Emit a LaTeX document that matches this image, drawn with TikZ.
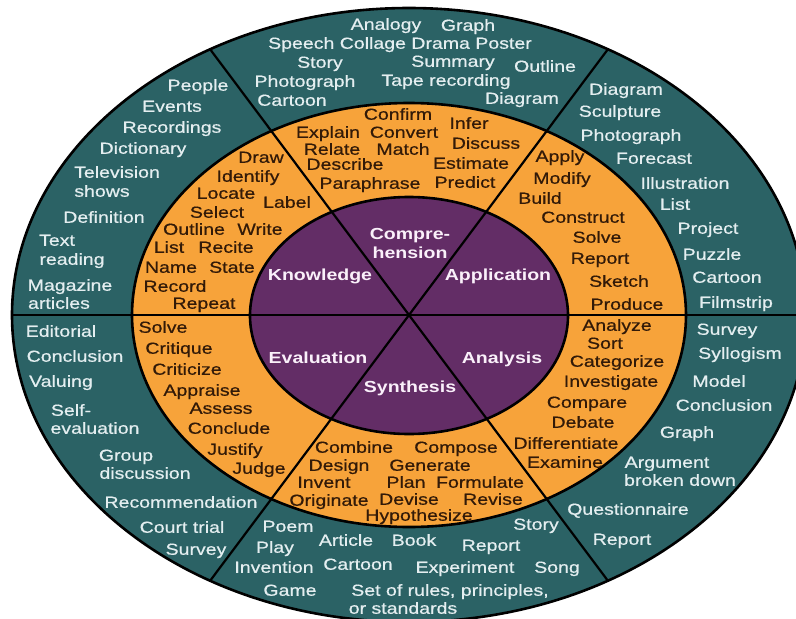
\documentclass[tikz,border=0pt]{standalone}
\usepackage{fontspec}
\setmainfont{Liberation Sans}[FakeStretch=1.22]
\newfontfamily\heavyfont{Liberation Sans}[FakeStretch=1.22,FakeBold=0.6]
\definecolor{tealbg}{RGB}{43,98,101}
\definecolor{orangebg}{RGB}{247,163,58}
\definecolor{purplebg}{RGB}{99,45,102}
\definecolor{tealtxt}{RGB}{228,238,240}
\definecolor{orangetxt}{RGB}{50,26,8}
\definecolor{purpletxt}{RGB}{250,240,250}
\newcommand\lblfont{\heavyfont\fontsize{16}{18}\selectfont}
\newcommand\boldlblfont{\fontsize{16}{18}\selectfont\bfseries}
\begin{document}
\begin{tikzpicture}[x=1pt,y=-1pt,
  lbl/.style={inner sep=0pt,text height=11.5pt,text depth=0pt,font=\lblfont},
  tw/.style={lbl,text=tealtxt},
  ow/.style={lbl,text=orangetxt},
  pw/.style={lbl,text=purpletxt,font=\boldlblfont},
  divider/.style={draw=black,line width=2.2pt},
  rim/.style={draw=black,line width=2.6pt}]
\fill[white] (0,0) rectangle (796,619);
\clip (0,0) rectangle (796,619);
% rings
\fill[tealbg] (409,315) ellipse [x radius=397, y radius=307];
\fill[orangebg] (409,315) ellipse [x radius=277, y radius=212];
\fill[purplebg] (409,315.5) ellipse [x radius=159, y radius=118.5];
% dividers
\coordinate (c) at (409,315);
\coordinate (ul) at (206.5,44.4);
\coordinate (ur) at (611.5,44.4);
\coordinate (ll) at (206.5,585.6);
\coordinate (lr) at (611.5,585.6);
\coordinate (hl) at (5,315);
\coordinate (hr) at (815,315);
\begin{scope}
\clip (409,315) ellipse [x radius=397, y radius=307];
\draw[divider] (ul) -- (c) -- (lr);
\draw[divider] (ur) -- (c) -- (ll);
\draw[divider] (hl) -- (hr);
\end{scope}
\draw[rim] (409,315) ellipse [x radius=397, y radius=307];
\draw[rim] (409,315) ellipse [x radius=277, y radius=212];
\draw[rim] (409,315.5) ellipse [x radius=159, y radius=118.5];
% purple labels
\node[pw] (p1) at (410,234) {Compre-};
\node[pw] (p2) at (410,253) {hension};
\node[pw] (p3) at (320,275) {Knowledge};
\node[pw] (p4) at (498,275) {Application};
\node[pw] (p5) at (318,358) {Evaluation};
\node[pw] (p6) at (502,358) {Analysis};
\node[pw] (p7) at (410,387) {Synthesis};
% orange: knowledge
\node[ow] (ok1) at (261,157) {Draw};
\node[ow] (ok2) at (248,176) {Identify};
\node[ow] (ok3) at (226,193) {Locate};
\node[ow] (ok4) at (287,202) {Label};
\node[ow] (ok5) at (217,212) {Select};
\node[ow] (ok6) at (194,229) {Outline};
\node[ow] (ok7) at (260,229) {Write};
\node[ow] (ok8) at (169,247) {List};
\node[ow] (ok9) at (226,247) {Recite};
\node[ow] (ok10) at (171,267) {Name};
\node[ow] (ok11) at (232,267) {State};
\node[ow] (ok12) at (175,286) {Record};
\node[ow] (ok13) at (204,303) {Repeat};
% orange: comprehension
\node[ow] (oc1) at (398,114) {Confirm};
\node[ow] (oc2) at (328,132) {Explain};
\node[ow] (oc3) at (404,132) {Convert};
\node[ow] (oc4) at (469,123) {Infer};
\node[ow] (oc5) at (332,149) {Relate};
\node[ow] (oc6) at (403,149) {Match};
\node[ow] (oc7) at (486,143) {Discuss};
\node[ow] (oc8) at (345,164) {Describe};
\node[ow] (oc9) at (471,163) {Estimate};
\node[ow] (oc10) at (370,183) {Paraphrase};
\node[ow] (oc11) at (465,182) {Predict};
% orange: application
\node[ow] (oa1) at (560,156) {Apply};
\node[ow] (oa2) at (562,178) {Modify};
\node[ow] (oa3) at (540,198) {Build};
\node[ow] (oa4) at (583,217) {Construct};
\node[ow] (oa5) at (597,237) {Solve};
\node[ow] (oa6) at (600,258) {Report};
\node[ow] (oa7) at (619,281) {Sketch};
\node[ow] (oa8) at (627,304) {Produce};
% orange: analysis
\node[ow] (on1) at (617,325) {Analyze};
\node[ow] (on2) at (605,343) {Sort};
\node[ow] (on3) at (617,361) {Categorize};
\node[ow] (on4) at (611,381) {Investigate};
\node[ow] (on5) at (587,402) {Compare};
\node[ow] (on6) at (583,422) {Debate};
\node[ow] (on7) at (566,443) {Differentiate};
\node[ow] (on8) at (565,462) {Examine};
% orange: synthesis
\node[ow] (os1) at (354,447) {Combine};
\node[ow] (os2) at (456,447) {Compose};
\node[ow] (os3) at (339,465) {Design};
\node[ow] (os4) at (430,465) {Generate};
\node[ow] (os5) at (324,482) {Invent};
\node[ow] (os6) at (406,482) {Plan};
\node[ow] (os7) at (480,482) {Formulate};
\node[ow] (os8) at (329,500) {Originate};
\node[ow] (os9) at (409,499) {Devise};
\node[ow] (os10) at (493,499) {Revise};
\node[ow] (os11) at (419,515) {Hypothesize};
% orange: evaluation
\node[ow] (oe1) at (163,327) {Solve};
\node[ow] (oe2) at (179,348) {Critique};
\node[ow] (oe3) at (187,369) {Criticize};
\node[ow] (oe4) at (202,390) {Appraise};
\node[ow] (oe5) at (221,408) {Assess};
\node[ow] (oe6) at (229,428) {Conclude};
\node[ow] (oe7) at (235,449) {Justify};
\node[ow] (oe8) at (259,468) {Judge};
% teal: top
\node[tw] (tc1) at (386,24) {Analogy};
\node[tw] (tc2) at (468,25) {Graph};
\node[tw] (tc3) at (400,43) {Speech Collage Drama Poster};
\node[tw] (tc4) at (320,62) {Story};
\node[tw] (tc5) at (453,61) {Summary};
\node[tw] (tc6) at (545,66) {Outline};
\node[tw] (tc7) at (305,81) {Photograph};
\node[tw] (tc8) at (446,80) {Tape recording};
\node[tw] (tc9) at (292,100) {Cartoon};
\node[tw] (tc10) at (522,98) {Diagram};
% teal: left
\node[tw] (tk1) at (198,85) {People};
\node[tw] (tk2) at (172,106) {Events};
\node[tw] (tk3) at (172,127) {Recordings};
\node[tw] (tk4) at (143,148) {Dictionary};
\node[tw] (tk5) at (117,172) {Television};
\node[tw] (tk6) at (102,191) {shows};
\node[tw] (tk7) at (104,217) {Definition};
\node[tw] (tk8) at (57,240) {Text};
\node[tw] (tk9) at (72,259) {reading};
\node[tw] (tk10) at (70,285) {Magazine};
\node[tw] (tk11) at (59,303) {articles};
% teal: right
\node[tw] (ta1) at (626,89) {Diagram};
\node[tw] (ta2) at (620,111) {Sculpture};
\node[tw] (ta3) at (631,135) {Photograph};
\node[tw] (ta4) at (654,158) {Forecast};
\node[tw] (ta5) at (685,183) {Illustration};
\node[tw] (ta6) at (675,204) {List};
\node[tw] (ta7) at (708,228) {Project};
\node[tw] (ta8) at (712,254) {Puzzle};
\node[tw] (ta9) at (727,277) {Cartoon};
\node[tw] (ta10) at (736,302) {Filmstrip};
% teal: lower right
\node[tw] (tn1) at (727,329) {Survey};
\node[tw] (tn2) at (740,353) {Syllogism};
\node[tw] (tn3) at (719,381) {Model};
\node[tw] (tn4) at (724,405) {Conclusion};
\node[tw] (tn5) at (687,432) {Graph};
\node[tw] (tn6) at (667,462) {Argument};
\node[tw] (tn7) at (680,480) {broken down};
\node[tw] (tn8) at (628,509) {Questionnaire};
\node[tw] (tn9) at (622,539) {Report};
% teal: bottom
\node[tw] (ts1) at (536,524) {Story};
\node[tw] (ts2) at (288,526) {Poem};
\node[tw] (ts3) at (346,540) {Article};
\node[tw] (ts4) at (414,540) {Book};
\node[tw] (ts5) at (491,545) {Report};
\node[tw] (ts6) at (275,547) {Play};
\node[tw] (ts7) at (274,567) {Invention};
\node[tw] (ts8) at (358,564) {Cartoon};
\node[tw] (ts9) at (465,567) {Experiment};
\node[tw] (ts10) at (557,567) {Song};
\node[tw] (ts11) at (290,590) {Game};
\node[tw] (ts12) at (450,590) {Set of rules, principles,};
\node[tw] (ts13) at (403,608) {or standards};
% teal: lower left
\node[tw] (te1) at (61,331) {Editorial};
\node[tw] (te2) at (75,356) {Conclusion};
\node[tw] (te3) at (61,381) {Valuing};
\node[tw] (te4) at (71,410) {Self-};
\node[tw] (te5) at (95,428) {evaluation};
\node[tw] (te6) at (126,455) {Group};
\node[tw] (te7) at (145,473) {discussion};
\node[tw] (te8) at (181,502) {Recommendation};
\node[tw] (te9) at (182,527) {Court trial};
\node[tw] (te10) at (196,549) {Survey};
\end{tikzpicture}
\end{document}
